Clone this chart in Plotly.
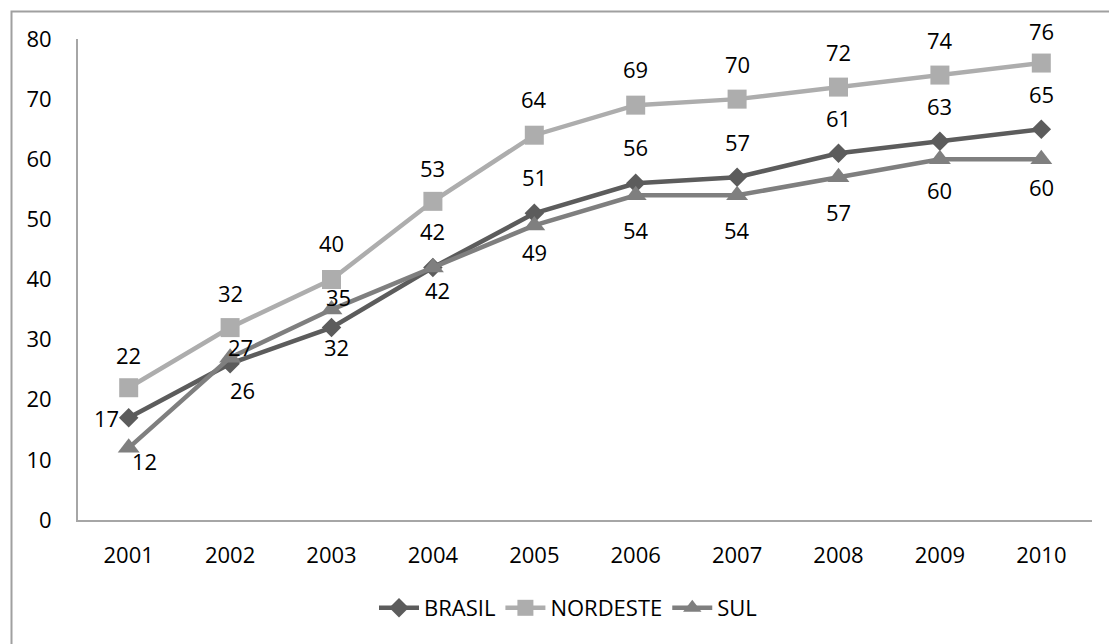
import plotly.graph_objects as go

# Data
years = ["2001", "2002", "2003", "2004", "2005", "2006", "2007", "2008", "2009", "2010"]
brasil = [17, 26, 32, 42, 51, 56, 57, 61, 63, 65]
nordeste = [22, 32, 40, 53, 64, 69, 70, 72, 74, 76]
sul = [12, 27, 35, 42, 49, 54, 54, 57, 60, 60]
y_ticks = [0, 10, 20, 30, 40, 50, 60, 70, 80]

# Value-label placement (pixel offsets from each point: dx, dy; dy up is positive)
brasil_lbl = [(-22, 0), (12, -26), (5, -19), (0, 36), (0, 36), (0, 36), (0, 35), (0, 35), (0, 35), (0, 35)]
nordeste_lbl = [(0, 33), (0, 35), (0, 37), (0, 33), (0, 36), (0, 36), (0, 35), (0, 35), (0, 35), (0, 32)]
sul_lbl = [(16, -13), (10, 11), (7, 13), (5, -23), (0, -27), (0, -35), (0, -35), (0, -35), (0, -31), (0, -28)]

FONT = "Open Sans"
FS = 22
TXT = "#000000"

W, H = 1109, 644
ML, MR, MT, MB = 78, 17, 39, 124

series = [
    ("BRASIL", brasil, "#5c5c5c", "diamond", 15, brasil_lbl),
    ("NORDESTE", nordeste, "#adadad", "square", 19, nordeste_lbl),
    ("SUL", sul, "#7f7f7f", "triangle-up", 19, sul_lbl),
]

fig = go.Figure()
annotations = []
for name, vals, color, sym, msize, lbl in series:
    fig.add_trace(go.Scatter(
        x=years, y=vals, name=name, mode="lines+markers",
        line=dict(color=color, width=4.5),
        marker=dict(symbol=sym, size=msize, color=color, line=dict(width=0)),
        cliponaxis=False,
    ))
    # category axis: annotations are placed by category index
    for i, (yv, (dx, dy)) in enumerate(zip(vals, lbl)):
        annotations.append(dict(
            x=i, y=yv, xref="x", yref="y", text=str(yv), showarrow=False,
            xshift=dx, yshift=dy, font=dict(family=FONT, size=FS, color=TXT),
        ))

# Outer chart frame (right/bottom edges fall outside the page)
pw = W - ML - MR
ph = H - MT - MB
def px_x(p):
    return (p - ML) / pw
def px_y(p):
    return (H - MB - p) / ph

fig.update_layout(
    width=W, height=H,
    margin=dict(l=ML, r=MR, t=MT, b=MB),
    paper_bgcolor="white", plot_bgcolor="white",
    font=dict(family=FONT, size=FS, color=TXT),
    showlegend=True,
    legend=dict(
        orientation="h", x=px_x(568), y=px_y(608), xanchor="center", yanchor="middle",
        font=dict(family=FONT, size=FS, color=TXT), itemwidth=40,
    ),
    xaxis=dict(
        type="category", range=[-0.5, len(years) - 0.5], autorange=False,
        showline=True, linecolor="#a6a6a6", linewidth=2,
        showgrid=False, zeroline=False, ticks="", ticklabelstandoff=15,
        tickfont=dict(family=FONT, size=FS, color=TXT),
    ),
    yaxis=dict(
        range=[0, 80], autorange=False, tickvals=y_ticks, showline=True,
        linecolor="#a6a6a6", linewidth=2,
        showgrid=False, zeroline=False, ticks="", ticklabelstandoff=20,
        tickfont=dict(family=FONT, size=FS, color=TXT),
    ),
    annotations=annotations,
    shapes=[dict(
        type="rect", xref="paper", yref="paper",
        x0=px_x(11.5), y0=px_y(700), x1=px_x(1150), y1=px_y(11.5),
        line=dict(color="#a0a0a0", width=2), fillcolor="rgba(0,0,0,0)", layer="below",
    )],
)

fig.write_html("out.html")
